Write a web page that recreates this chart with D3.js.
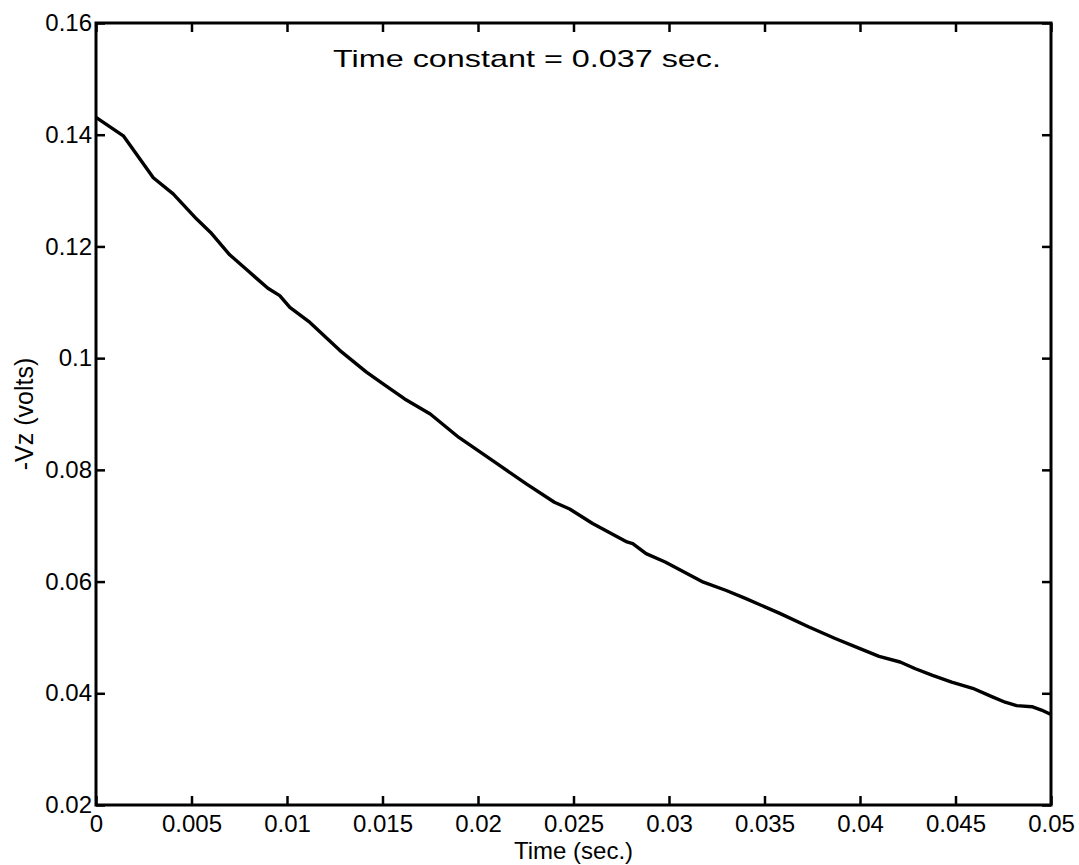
<!DOCTYPE html>
<html>
<head>
<meta charset="utf-8">
<script src="https://cdn.jsdelivr.net/npm/d3@7"></script>
<style>
  body { margin: 0; background: #fff; }
  text { font-family: "Liberation Sans", Arial, sans-serif; fill: #000; }
</style>
</head>
<body>
<div id="chart"></div>
<script>
// time (s) and -Vz (volts)
const time = [0, 0.00143, 0.0030, 0.00404, 0.00527, 0.006, 0.007, 0.008, 0.009, 0.00962,
  0.01015, 0.0112, 0.01276, 0.01416, 0.01503, 0.01616, 0.0175, 0.019, 0.02113, 0.02253,
  0.0240, 0.0248, 0.0260, 0.0278, 0.0281, 0.0288, 0.0298, 0.0318, 0.0330, 0.0340,
  0.0358, 0.0373, 0.0387, 0.0400, 0.0410, 0.0421, 0.0429, 0.0438, 0.0448, 0.0459,
  0.0469, 0.0476, 0.0482, 0.0490, 0.0495, 0.0500];
const vz = [0.1431, 0.1398, 0.1323, 0.1294, 0.1249, 0.1225, 0.1185, 0.1155, 0.1125, 0.1112,
  0.1091, 0.1064, 0.1014, 0.0975, 0.0954, 0.0927, 0.0900, 0.0858, 0.0808, 0.0775,
  0.0742, 0.0730, 0.0704, 0.0671, 0.0668, 0.0650, 0.0635, 0.0599, 0.0584, 0.0570,
  0.0543, 0.0519, 0.0498, 0.0480, 0.0466, 0.0456, 0.0444, 0.0432, 0.0420, 0.0409,
  0.0394, 0.0384, 0.0378, 0.0376, 0.0370, 0.0362];

const xTicks = [0, 0.005, 0.01, 0.015, 0.02, 0.025, 0.03, 0.035, 0.04, 0.045, 0.05];
const xTickLabels = ["0", "0.005", "0.01", "0.015", "0.02", "0.025", "0.03", "0.035", "0.04", "0.045", "0.05"];
const yTicks = [0.02, 0.04, 0.06, 0.08, 0.1, 0.12, 0.14, 0.16];
const yTickLabels = ["0.02", "0.04", "0.06", "0.08", "0.1", "0.12", "0.14", "0.16"];

const width = 1079, height = 865;
const margin = {left: 96, right: 28, top: 23, bottom: 60};

const x = d3.scaleLinear().domain([0, 0.05]).range([margin.left, width - margin.right]);
const y = d3.scaleLinear().domain([0.02, 0.16]).range([height - margin.bottom, margin.top]);

const svg = d3.select("#chart").append("svg")
  .attr("width", width)
  .attr("height", height)
  .attr("viewBox", [0, 0, width, height]);

const fontSize = 24;

// bottom + top
svg.append("g")
  .attr("transform", `translate(0,${y.range()[0]})`)
  .call(d3.axisBottom(x).tickValues(xTicks).tickFormat((d, i) => xTickLabels[i]).tickSize(-9).tickPadding(10))
  .call(g => g.select(".domain").remove())
  .call(g => g.selectAll("line").attr("stroke", "#000").attr("stroke-width", 2.5))
  .call(g => g.selectAll("text").attr("font-size", fontSize).attr("font-family", null));

svg.append("g")
  .attr("transform", `translate(0,${y.range()[1]})`)
  .call(d3.axisTop(x).tickValues(xTicks).tickFormat("").tickSize(-9))
  .call(g => g.select(".domain").remove())
  .call(g => g.selectAll("line").attr("stroke", "#000").attr("stroke-width", 2.5));

// left + right
svg.append("g")
  .attr("transform", `translate(${x.range()[0]},0)`)
  .call(d3.axisLeft(y).tickValues(yTicks).tickFormat((d, i) => yTickLabels[i]).tickSize(-9).tickPadding(4))
  .call(g => g.select(".domain").remove())
  .call(g => g.selectAll("line").attr("stroke", "#000").attr("stroke-width", 2.5))
  .call(g => g.selectAll("text").attr("font-size", fontSize).attr("font-family", null));

svg.append("g")
  .attr("transform", `translate(${x.range()[1]},0)`)
  .call(d3.axisRight(y).tickValues(yTicks).tickFormat("").tickSize(-9))
  .call(g => g.select(".domain").remove())
  .call(g => g.selectAll("line").attr("stroke", "#000").attr("stroke-width", 2.5));

// frame
svg.append("rect")
  .attr("x", x.range()[0])
  .attr("y", y.range()[1])
  .attr("width", x.range()[1] - x.range()[0])
  .attr("height", y.range()[0] - y.range()[1])
  .attr("fill", "none")
  .attr("stroke", "#000")
  .attr("stroke-width", 3);

const line = d3.line()
  .x((d, i) => x(time[i]))
  .y(d => y(d));

svg.append("path")
  .datum(vz)
  .attr("fill", "none")
  .attr("stroke", "#000")
  .attr("stroke-width", 3.4)
  .attr("stroke-linejoin", "round")
  .attr("d", line);

svg.append("text")
  .attr("x", 333)
  .attr("y", 67)
  .attr("font-size", fontSize)
  .attr("textLength", 388)
  .attr("lengthAdjust", "spacingAndGlyphs")
  .text("Time constant = 0.037 sec.");

svg.append("text")
  .attr("x", (x.range()[0] + x.range()[1]) / 2)
  .attr("y", 859)
  .attr("text-anchor", "middle")
  .attr("font-size", 24)
  .text("Time (sec.)");

svg.append("text")
  .attr("transform", `translate(33,${(y.range()[0] + y.range()[1]) / 2}) rotate(-90)`)
  .attr("text-anchor", "middle")
  .attr("font-size", 25)
  .text("-Vz (volts)");
</script>
</body>
</html>
